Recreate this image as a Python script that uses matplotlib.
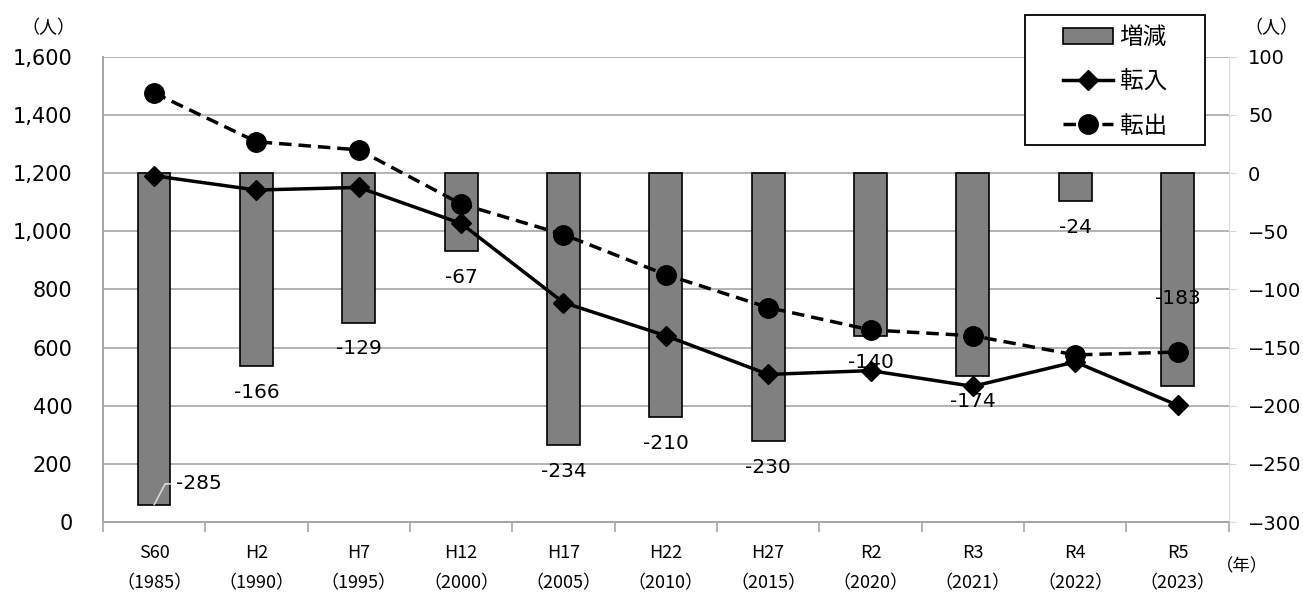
import numpy as np
import matplotlib.pyplot as plt
from matplotlib.patches import Rectangle

plt.rcParams['font.family'] = ['DejaVu Sans', 'Noto Sans CJK JP']
JP = ['Noto Sans CJK JP', 'DejaVu Sans']

years = ['S60\n（1985）', 'H2\n（1990）', 'H7\n（1995）', 'H12\n（2000）', 'H17\n（2005）',
         'H22\n（2010）', 'H27\n（2015）', 'R2\n（2020）', 'R3\n（2021）', 'R4\n（2022）',
         'R5\n（2023）']
tennyu = [1191, 1142, 1151, 1027, 755, 641, 508, 521, 467, 551, 402]    # 転入
tenshutsu = [1476, 1308, 1280, 1094, 989, 851, 738, 661, 641, 575, 585]  # 転出
zougen = [-285, -166, -129, -67, -234, -210, -230, -140, -174, -24, -183]  # 増減

# label offsets (points) from the bar end
label_dx = [16, 0, 0, 0, 0, 0, 0, 0, 0, 0, 0]
label_dy = [15, -19, -18, -19, -19, -19, -19, -19, -19, -19, 63]

x = np.arange(len(years))
grid_c = '#a6a6a6'

fig = plt.figure(figsize=(13.03, 5.92), dpi=100)
ax = fig.add_axes([0.079, 0.118, 0.864, 0.786])   # bars, right scale
ax2 = ax.twinx()                                  # lines, left scale

ax.bar(x, zougen, width=0.32, color='#808080', edgecolor='black', linewidth=1.2,
       zorder=2, label='増減')
ax.set_ylim(-300, 100)
ax.set_yticks(np.arange(-300, 101, 50))
ax.yaxis.tick_right()
ax.grid(axis='y', color=grid_c, linewidth=1.2, zorder=0)
ax.set_axisbelow(True)
ax.tick_params(axis='y', which='major', length=5, color='#d9d9d9', labelsize=14, pad=9)

for i, v in enumerate(zougen):
    if i == 0:
        # first label sits beside the bar with a thin leader line
        ax.annotate(str(v), xy=(x[i], v), xytext=(label_dx[i], label_dy[i]),
                    textcoords='offset points', ha='left', va='center', fontsize=14.5,
                    arrowprops=dict(arrowstyle='-', color='#d9d9d9', lw=1.2,
                                    shrinkA=2, shrinkB=0, relpos=(0, 0.5),
                                    connectionstyle='angle,angleA=0,angleB=62'),
                    zorder=5)
    else:
        ax.annotate(str(v), xy=(x[i], v), xytext=(label_dx[i], label_dy[i]),
                    textcoords='offset points', ha='center', va='center', fontsize=14.5,
                    zorder=5)

ax2.plot(x, tennyu, color='black', linewidth=2.5, marker='D', markersize=10,
         label='転入', zorder=3)
ax2.plot(x, tenshutsu, color='black', linewidth=2.5, linestyle=(0, (3.6, 2)),
         marker='o', markersize=14, label='転出', zorder=3)
ax2.set_ylim(0, 1600)
ax2.set_yticks(np.arange(0, 1601, 200))
ax2.yaxis.tick_left()
ax2.set_yticklabels([f'{v:,}' for v in range(0, 1601, 200)])
ax2.tick_params(axis='y', length=0, labelsize=15, pad=22)

ax.set_xlim(-0.5, len(years) - 0.5)
ax.set_xticks(x)
ax.set_xticklabels(years, fontsize=13, linespacing=1.85, family=JP)
ax.set_xticks(np.arange(-0.5, len(years)), minor=True)
ax.tick_params(axis='x', which='major', length=0, pad=16)
ax.tick_params(axis='x', which='minor', length=7, color=grid_c, width=1.2)

for a in (ax, ax2):
    a.spines['top'].set_visible(False)
    a.spines['left'].set_color(grid_c)
    a.spines['bottom'].set_color(grid_c)
    a.spines['right'].set_color('#d9d9d9')
    a.spines['left'].set_linewidth(1.2)
    a.spines['bottom'].set_linewidth(1.2)

fig.text(0.037, 0.952, '（人）', fontsize=13, ha='center', va='center', family=JP)
fig.text(0.976, 0.952, '（人）', fontsize=13, ha='center', va='center', family=JP)
fig.text(0.953, 0.044, '（年）', fontsize=12.5, ha='center', va='center', family=JP)

# legend box drawn separately so the entries can sit with wide margins
fig.patches.append(Rectangle((0.7866, 0.7551), 0.1381, 0.2196, transform=fig.transFigure,
                             facecolor='white', edgecolor='black', linewidth=1.3,
                             zorder=9))
h1, l1 = ax.get_legend_handles_labels()
h2, l2 = ax2.get_legend_handles_labels()
leg = fig.legend(h1 + h2, l1 + l2, loc='upper left', bbox_to_anchor=(0.8158, 0.956),
                 prop={'family': JP, 'size': 17}, frameon=False, handlelength=2.1,
                 handletextpad=0.3, labelspacing=0.9, borderpad=0, borderaxespad=0)
leg.set_zorder(10)

fig.savefig('out.png', dpi=100)
